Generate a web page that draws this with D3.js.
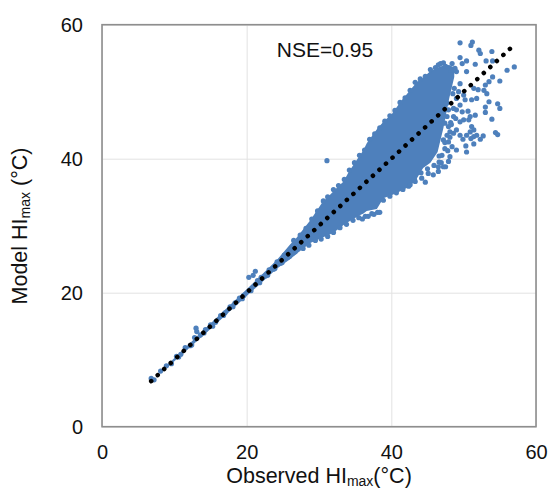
<!DOCTYPE html>
<html><head><meta charset="utf-8">
<script src="https://cdnjs.cloudflare.com/ajax/libs/d3/7.8.5/d3.min.js"></script>
<style>html,body{margin:0;background:#fff}svg{display:block}text{font-family:"Liberation Sans",Arial,sans-serif;fill:#111}</style>
</head><body><div id="c"></div>
<script>
const tickValues = [0, 20, 40, 60];
const noteLabel = "NSE=0.95";
const oneToOne = [6.8, 56.5];

// Saturated core of the cloud: observed, lower and upper model edges
const coreObs   = [9.0, 15.0, 20.0, 24.2, 26.0, 26.9, 28.8, 30.4, 31.5, 32.4, 33.4, 34.1, 35.7, 36.1, 36.6, 38.0, 38.9, 40.1, 41.4, 42.6, 43.5, 44.4, 45.4, 46.4, 47.2, 48.0, 48.7];
const coreLow   = [8.8, 14.6, 19.5, 23.6, 25.0, 25.8, 27.4, 28.2, 28.7, 29.3, 30.1, 30.6, 31.6, 31.8, 32.2, 32.5, 34.1, 34.6, 35.2, 35.9, 37.0, 38.6, 39.4, 41.0, 44.6, 49.0, 52.2];
const coreHigh  = [9.2, 15.4, 20.5, 24.9, 27.2, 28.2, 30.8, 33.4, 34.6, 35.6, 36.6, 38.0, 40.6, 41.2, 42.3, 44.4, 45.5, 46.7, 48.7, 50.2, 51.4, 52.1, 53.1, 53.6, 53.9, 54.0, 53.6];

// Individually visible points: high-value scatter
const scatterObs = [49.5,51.2,51.0,52.1,52.3,53.9,49.5,49.8,50.4,51.6,53.1,54.0,57.0,56.0,55.0,54.0,53.5,53.0,52.8,53.2,52.0,51.4,50.4,49.0,49.5,48.7,48.5,51.8,53.5,54.7,55.0,53.0,53.0,53.9,51.6,50.9,50.0,49.5,50.7,51.4,51.8,51.4,50.4,49.5,49.0,50.3,51.4,52.3,52.7,54.4,54.7,50.4,49.0,48.4,48.1,47.9,47.5,45.8,45.1,44.2,44.7,43.3,42.6,46.5,31.1,46.5,47.2,48.4,48.8,49.3,50.2,51.1,49.5,49.0,48.6,47.9,48.6,50.9,51.0,49.9,48.3,48.9,49.8,50.6,51.1,50.0,47.8,47.4,46.6,46.9,48.1,47.7,47.9,47.7,47.4,48.1,47.7,47.2,47.9,47.4,47.0,47.2,46.5,48.6,49.0,48.2];
const scatterMod = [57.3,57.4,56.9,56.2,55.7,56.0,55.1,54.2,54.6,54.1,54.6,54.6,53.7,53.2,51.6,52.2,51.5,51.0,50.2,49.7,50.3,50.5,53.0,53.0,51.2,50.5,49.7,49.0,48.5,48.2,47.5,47.7,46.9,45.9,46.5,46.3,45.8,45.5,45.8,44.3,43.5,43.3,43.5,43.5,44.3,41.9,42.2,42.9,43.4,43.9,43.6,41.0,41.3,41.8,40.3,39.6,38.8,37.6,37.8,37.1,36.5,36.6,36.1,38.1,39.7,54.0,54.3,54.2,53.5,50.0,48.8,48.8,48.0,47.3,46.3,44.8,43.8,44.0,43.0,42.9,45.1,46.0,47.0,47.1,44.8,49.5,41.2,42.4,40.4,39.4,43.2,48.3,47.3,46.3,45.3,44.0,43.5,42.8,42.5,41.5,40.5,38.8,38.8,47.5,49.0,45.4];

// Edge of the dense cloud
const edgeObs = [26.5,27.4,28.2,29.0,29.8,30.6,31.2,32.0,32.7,33.5,34.2,34.9,35.6,36.3,37.0,37.7,38.4,39.1,39.8,40.5,41.2,41.9,42.6,43.3,44.0,44.7,45.4,46.1,46.8,47.5,48.2,27.8,28.6,29.5,30.3,31.2,32.0,32.9,33.8,34.7,35.5,36.4,37.3,38.1,38.9,39.8,40.7,41.6,42.4,43.2,44.1,45.0,45.9,46.6,38.4,37.6,36.8,36.0];
const edgeMod = [27.8,28.6,29.6,31.0,32.2,33.7,34.3,35.4,36.0,36.9,38.3,39.4,40.5,41.3,42.9,43.7,44.6,45.6,46.4,47.2,48.4,49.1,50.2,51.4,51.9,52.3,53.3,53.6,54.2,53.8,53.2,26.6,27.1,27.8,28.0,28.4,29.0,29.7,30.2,30.8,31.2,31.4,31.8,32.0,33.8,34.4,34.9,35.4,35.9,36.9,37.9,38.5,39.0,39.5,32.0,31.7,31.4,31.0];

// Narrow strip below about 27 degrees, plus its outliers
const stripObs = [6.8,7.2,8.1,8.9,9.6,10.3,10.9,11.5,12.2,12.8,13.0,13.1,13.6,14.3,15.0,15.7,16.4,17.0,17.7,18.4,19.0,19.6,20.3,20.9,21.2,21.5,22.0,22.6,23.1,23.7,24.2,24.7,25.2,25.7,26.2,26.7,15.3,16.8,18.1,19.4,20.6,21.8,22.9,23.9,24.9,25.9,26.4,27.0,14.1,12.4,10.6];
const stripMod = [7.2,7.0,8.3,9.1,9.4,10.5,10.8,11.8,12.1,13.3,14.7,14.2,13.7,14.5,15.2,15.6,16.6,17.0,17.9,18.5,19.2,19.6,22.3,22.6,23.2,21.8,22.3,22.5,23.4,23.5,24.6,24.4,25.6,25.3,26.5,26.1,15.0,16.6,17.9,19.1,20.3,21.5,22.6,23.6,24.5,25.4,25.9,26.5,14.0,12.2,10.4];

const W = 549, H = 489, m = {l: 102, r: 536, t: 24.7, b: 426.7};
const x = d3.scaleLinear().domain([0, 60]).range([m.l, m.r]);
const y = d3.scaleLinear().domain([0, 60]).range([m.b, m.t]);
const blue = "#4e80bc";

const svg = d3.select("#c").append("svg").attr("width", W).attr("height", H);

const gx = svg.append("g").attr("transform", `translate(0,${m.b})`)
  .call(d3.axisBottom(x).tickValues(tickValues).tickSize(m.t - m.b).tickPadding(0));
gx.select(".domain").remove();
gx.selectAll("line").attr("stroke", "#e2e2e2").attr("stroke-width", 1);
gx.selectAll("text").attr("font-size", 20).attr("dy", 0).attr("y", 32);

const gy = svg.append("g").attr("transform", `translate(${m.l},0)`)
  .call(d3.axisLeft(y).tickValues(tickValues).tickSize(m.l - m.r).tickPadding(0));
gy.select(".domain").remove();
gy.selectAll("line").attr("stroke", "#e2e2e2").attr("stroke-width", 1);
gy.selectAll("text").attr("font-size", 20).attr("x", -19).attr("dy", "0.35em");

svg.append("path").datum(coreObs.map((o, i) => [o, coreLow[i], coreHigh[i]]))
  .attr("fill", blue)
  .attr("d", d3.area().x(d => x(d[0])).y0(d => y(d[1])).y1(d => y(d[2])));

const pts = (xs, ys) => xs.map((v, i) => [v, ys[i]]);
const all = [...pts(stripObs, stripMod), ...pts(edgeObs, edgeMod), ...pts(scatterObs, scatterMod)];
svg.append("g").selectAll("circle").data(all).join("circle")
  .attr("cx", d => x(d[0])).attr("cy", d => y(d[1])).attr("r", 2.6).attr("fill", blue);

svg.append("line")
  .attr("x1", x(oneToOne[0])).attr("y1", y(oneToOne[0]))
  .attr("x2", x(oneToOne[1])).attr("y2", y(oneToOne[1]))
  .attr("stroke", "#000").attr("stroke-width", 4.6)
  .attr("stroke-linecap", "round").attr("stroke-dasharray", "0.01 8.88");

svg.append("rect").attr("x", m.l).attr("y", m.t)
  .attr("width", m.r - m.l).attr("height", m.b - m.t)
  .attr("fill", "none").attr("stroke", "#8e8e8e").attr("stroke-width", 1.6);

svg.append("text").attr("x", 325).attr("y", 57).attr("text-anchor", "middle")
  .attr("font-size", 21).text(noteLabel);

function title(sel, before, after) {
  sel.attr("text-anchor", "middle").attr("font-size", 21.5);
  sel.append("tspan").text(before);
  sel.append("tspan").attr("font-size", 14).attr("dy", 3).text("max");
  sel.append("tspan").attr("dy", -3).text(after);
}
svg.append("text").attr("x", 319).attr("y", 483).call(title, "Observed HI", "(°C)");
svg.append("text").attr("transform", "translate(27,226) rotate(-90)").call(title, "Model HI", " (°C)");
</script></body></html>
